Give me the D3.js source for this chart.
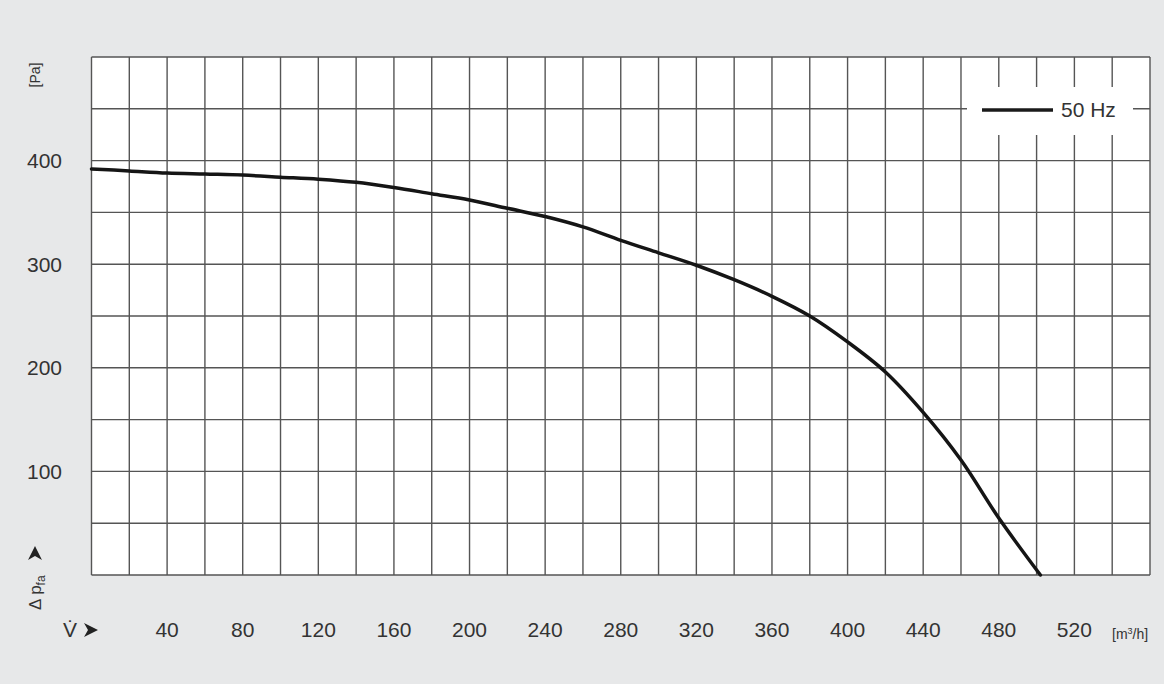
<!DOCTYPE html>
<html>
<head>
<meta charset="utf-8">
<script src="https://cdn.jsdelivr.net/npm/d3@7"></script>
<style>
  html, body { margin: 0; padding: 0; background: #e7e8e9; }
  svg { display: block; }
</style>
</head>
<body>
<svg id="chart"></svg>
<script>
// volume flow [m3/h] and pressure [Pa]
const flow = [0, 20, 40, 60, 80, 100, 120, 140, 160, 180, 200, 220, 240, 260, 280, 300, 320, 340, 360, 380, 400, 420, 440, 460, 480, 502];
const pressure = [392, 390, 388, 387, 386, 384, 382, 379, 374, 368, 362, 354, 346, 336, 323, 311, 299, 285, 269, 250, 225, 196, 157, 111, 55, 0];
const xTicks = [40, 80, 120, 160, 200, 240, 280, 320, 360, 400, 440, 480, 520];
const yTicks = [100, 200, 300, 400];
const seriesName = "50 Hz";

const width = 1164;
const height = 684;

const svg = d3.select("#chart")
  .attr("width", width)
  .attr("height", height)
  .style("font-family", "'Liberation Sans', Arial, sans-serif");

svg.append("rect")
  .attr("width", width)
  .attr("height", height)
  .attr("fill", "#e7e8e9");

const x = d3.scaleLinear().domain([0, 560]).range([91.5, 1150]);
const y = d3.scaleLinear().domain([0, 500]).range([575, 57]);

// plot background
svg.append("rect")
  .attr("x", x(0))
  .attr("y", y(500))
  .attr("width", x(560) - x(0))
  .attr("height", y(0) - y(500))
  .attr("fill", "#fff");

const grid = svg.append("g")
  .attr("stroke", "#555")
  .attr("stroke-width", 1.4);

grid.selectAll(".vline")
  .data(d3.range(0, 561, 20))
  .join("line")
  .attr("x1", d => x(d))
  .attr("x2", d => x(d))
  .attr("y1", y(0))
  .attr("y2", y(500));

grid.selectAll(".hline")
  .data(d3.range(0, 501, 50))
  .join("line")
  .attr("x1", x(0))
  .attr("x2", x(560))
  .attr("y1", d => y(d))
  .attr("y2", d => y(d));

// legend box covers the grid
svg.append("rect")
  .attr("x", 967)
  .attr("y", 87)
  .attr("width", 166)
  .attr("height", 48)
  .attr("fill", "#fff");

svg.append("line")
  .attr("x1", 982)
  .attr("x2", 1053)
  .attr("y1", 110)
  .attr("y2", 110)
  .attr("stroke", "#1a1a1a")
  .attr("stroke-width", 3.5);

svg.append("text")
  .attr("x", 1061)
  .attr("y", 110)
  .attr("dy", "0.35em")
  .attr("font-size", 21)
  .attr("fill", "#333")
  .text(seriesName);

// curve
const line = d3.line()
  .x((d, i) => x(flow[i]))
  .y(d => y(d))
  .curve(d3.curveCatmullRom.alpha(0.5));

svg.append("path")
  .datum(pressure)
  .attr("d", line)
  .attr("fill", "none")
  .attr("stroke", "#151515")
  .attr("stroke-width", 3.5)
  .attr("stroke-linecap", "round");

// tick labels
svg.selectAll(".xt")
  .data(xTicks)
  .join("text")
  .attr("x", d => x(d))
  .attr("y", 630)
  .attr("dy", "0.35em")
  .attr("text-anchor", "middle")
  .attr("font-size", 21)
  .attr("fill", "#333")
  .text(d => d);

svg.selectAll(".yt")
  .data(yTicks)
  .join("text")
  .attr("x", 62)
  .attr("y", d => y(d))
  .attr("dy", "0.35em")
  .attr("text-anchor", "end")
  .attr("font-size", 21)
  .attr("fill", "#333")
  .text(d => d);

// axis titles
const arrow = "M0,0L-14,-7L-10,0L-14,7Z";

svg.append("text")
  .attr("x", 70)
  .attr("y", 630)
  .attr("dy", "0.35em")
  .attr("text-anchor", "middle")
  .attr("font-size", 21)
  .attr("fill", "#333")
  .text("V\u0307");

svg.append("path")
  .attr("d", arrow)
  .attr("transform", "translate(98,630)")
  .attr("fill", "#222");

svg.append("text")
  .attr("x", 1112)
  .attr("y", 634)
  .attr("dy", "0.35em")
  .attr("font-size", 14)
  .attr("fill", "#333")
  .html("[m<tspan font-size='9' dy='-5'>3</tspan><tspan dy='5'>/h]</tspan>");

const yTitle = svg.append("g")
  .attr("transform", "translate(35,610) rotate(-90)");

yTitle.append("text")
  .attr("x", 0)
  .attr("y", 0)
  .attr("dy", "0.35em")
  .attr("font-size", 17)
  .attr("fill", "#333")
  .html("\u0394 p<tspan font-size='12' dy='4'>fa</tspan>");

yTitle.append("path")
  .attr("d", arrow)
  .attr("transform", "translate(64,0)")
  .attr("fill", "#222");

svg.append("text")
  .attr("transform", "translate(35,75) rotate(-90)")
  .attr("dy", "0.35em")
  .attr("text-anchor", "middle")
  .attr("font-size", 14)
  .attr("fill", "#333")
  .text("[Pa]");
</script>
</body>
</html>
